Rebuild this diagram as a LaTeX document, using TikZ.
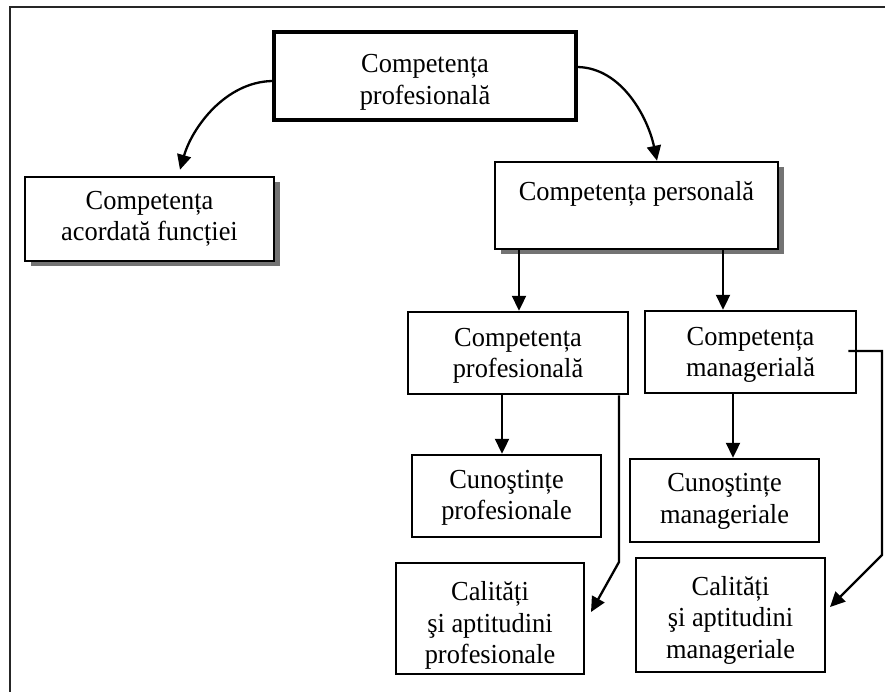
\documentclass[tikz,border=0pt]{standalone}
\usepackage{fontspec}
\setmainfont{Liberation Serif}[FakeStretch=0.96]
\usetikzlibrary{arrows.meta,calc,shadows}
\begin{document}
\begin{tikzpicture}[x=1pt,y=-1pt,
  box/.style={draw=black, line width=2.5pt, fill=white, inner sep=0pt},
  txt/.style={inner sep=0pt, align=center, font=\fontsize{27.5}{31.5}\selectfont},
  shbox/.style={box, drop shadow={shadow xshift=6pt, shadow yshift=-5pt, fill=black!55, opacity=1}},
  mainbox/.style={box, line width=3.5pt},
  conn/.style={line width=2.3pt, -{Triangle[length=15pt,width=14pt]}},
  frame/.style={line width=2.2pt, draw=black!85}]
\useasboundingbox (0,0) rectangle (885,691);
\clip (0,0) rectangle (885,691);
\draw[frame] (10,700) -- (10,7) -- (895,7);

\node[mainbox, minimum width=302pt, minimum height=88pt,
  label={[txt, font=\fontsize{27.5}{32}\selectfont, yshift=-6pt]center:{Competența\\profesională}}] (top) at (425,76) {};
\node[shbox, minimum width=249pt, minimum height=84pt,
  label={[txt]center:{Competența\\acordată funcției}}] (acord) at (149.5,219) {};
\node[shbox, minimum width=283pt, minimum height=87pt,
  label={[txt, yshift=12pt]center:{Competența personală}}] (pers) at (636.5,205.5) {};
\node[box, minimum width=220pt, minimum height=82pt,
  label={[txt, yshift=-3pt]center:{Competența\\profesională}}] (prof) at (518,353) {};
\node[box, minimum width=211pt, minimum height=82pt,
  label={[txt, yshift=-3pt]center:{Competența\\managerială}}] (manag) at (750.5,352) {};
\node[box, minimum width=189pt, minimum height=82pt,
  label={[txt, yshift=-2pt]center:{Cunoştințe\\profesionale}}] (cunprof) at (506.5,496) {};
\node[box, minimum width=189pt, minimum height=83pt,
  label={[txt, yshift=-1pt]center:{Cunoştințe\\manageriale}}] (cunman) at (724.5,500.5) {};
\node[box, minimum width=188pt, minimum height=111pt,
  label={[txt, yshift=-7pt]center:{Calități\\şi aptitudini\\profesionale}}] (calprof) at (490,618.5) {};
\node[box, minimum width=189pt, minimum height=114pt,
  label={[txt, yshift=-5pt]center:{Calități\\şi aptitudini\\manageriale}}] (calman) at (730.5,615) {};

\coordinate (xa) at (519,0);
\coordinate (xb) at (723,0);
\coordinate (xc) at (502,0);
\coordinate (xd) at (733,0);
\coordinate (xe) at (619,0);
\coordinate (b1) at (619,562);
\coordinate (t1) at (591,612);
\coordinate (b2) at (882,351);
\coordinate (b3) at (882,555);
\coordinate (t2) at (830,607);

\draw[conn] ($(top.west)+(0,5)$) .. controls (225,82) and (192,128) .. ($(acord.north)+(30.5,-6)$);
\draw[conn] ($(top.east)+(0,-9)$) .. controls (622,68) and (648,118) .. ($(pers.north)+(20.5,0)$);
\draw[conn] (pers.south -| xa) -- (prof.north -| xa);
\draw[conn] (pers.south -| xb) -- (manag.north -| xb);
\draw[conn] (prof.south -| xc) -- (cunprof.north -| xc);
\draw[conn] (manag.south -| xd) -- (cunman.north -| xd);
\draw[conn] (prof.south -| xe) -- (b1) -- (t1);
\draw[conn] ($(manag.east)+(-9,-1)$) -- (b2) -- (b3) -- (t2);
\end{tikzpicture}
\end{document}
